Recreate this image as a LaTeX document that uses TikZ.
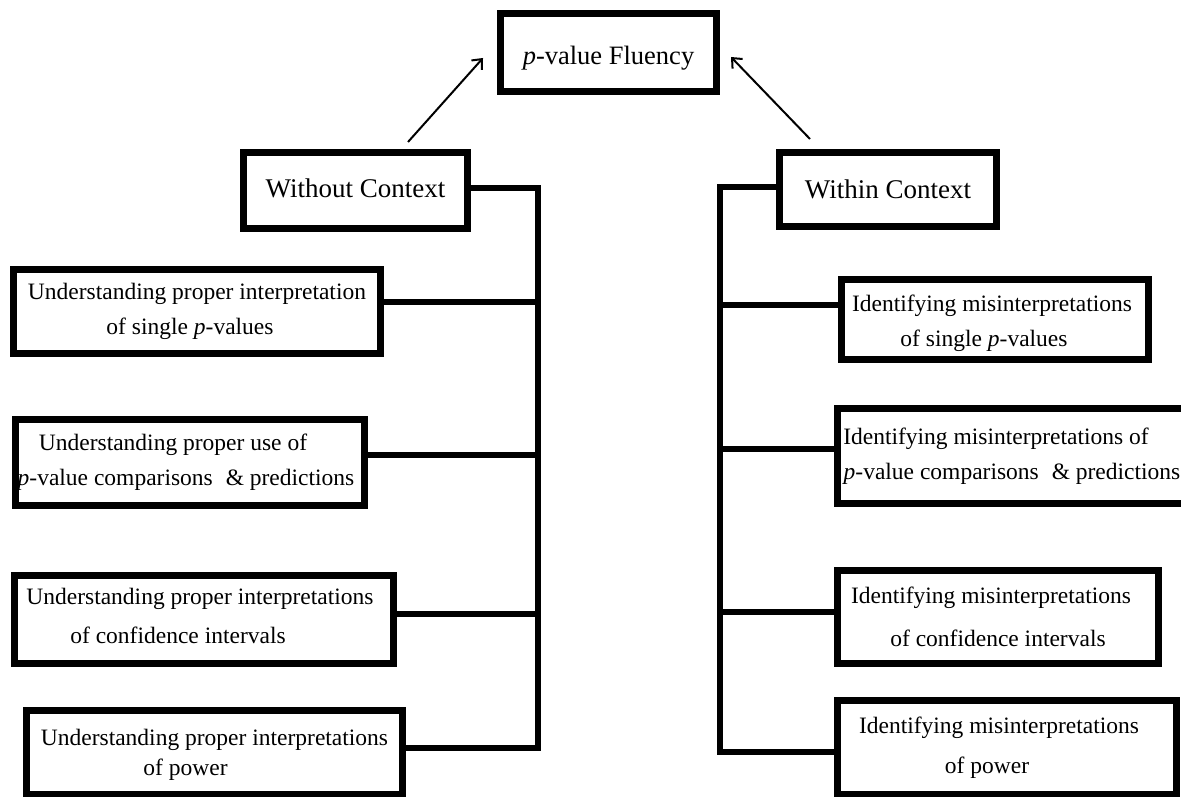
\documentclass[tikz,border=0pt]{standalone}
\usepackage{fontspec}
\setmainfont{Liberation Serif}
\usetikzlibrary{arrows.meta}
\newcommand{\shl}[2]{\hspace*{#1pt}#2\hspace*{-#1pt}}
\begin{document}
\begin{tikzpicture}[x=1pt,y=-1pt,
  box/.style={draw, line width=7pt, inner sep=0pt},
  txt/.style={inner sep=0pt, align=center, font=\fontsize{23.5}{28}\selectfont},
  headtxt/.style={txt, font=\fontsize{27}{32}\selectfont},
  conn/.style={line width=6.5pt, line join=miter},
  arr/.style={line width=2pt, -{Straight Barb[length=8pt,width=14pt]}}]
\fill[white] (0,0) rectangle (1181,797);
\clip (0,0) rectangle (1181,797);

% boxes
\node[box, minimum width=216pt, minimum height=78pt] (top) at (608.5,52.5) {};
\node[box, minimum width=224pt, minimum height=76pt] (woc) at (355.5,190.5) {};
\node[box, minimum width=217pt, minimum height=74pt] (wic) at (888,189.5) {};
\node[box, minimum width=367pt, minimum height=84pt] (l1) at (197,311.5) {};
\node[box, minimum width=349pt, minimum height=86pt] (l2) at (190,462.5) {};
\node[box, minimum width=379pt, minimum height=88pt] (l3) at (204,619.5) {};
\node[box, minimum width=376pt, minimum height=84pt] (l4) at (214.5,752.5) {};
\node[box, minimum width=307pt, minimum height=80pt] (r1) at (995,319.5) {};
\node[box, minimum width=349pt, minimum height=95pt] (r2) at (1012,456) {};
\node[box, minimum width=321pt, minimum height=93pt] (r3) at (998,617) {};
\node[box, minimum width=339pt, minimum height=94pt] (r4) at (1007,747.5) {};

% texts
\node[headtxt, font=\fontsize{26.5}{32}\selectfont] (topt) at ([yshift=-6pt]top.center) {\textit{p}-value Fluency};
\node[headtxt] (woct) at ([yshift=2pt]woc.center) {Without Context};
\node[headtxt] (wict) at (wic.center) {Within Context};
\node[txt] (l1t) at (l1.center)
  {\shl{0}{Understanding proper interpretation}\\[7pt]\shl{-7}{of single \textit{p}-values}};
\node[txt] (l2t) at (l2.center)
  {\shl{-17}{Understanding proper use of}\\[7pt]\shl{-4}{\textit{p}-value comparisons\hspace{0.3em} \& predictions}};
\node[txt] (l3t) at ([yshift=4pt]l3.center)
  {\shl{-4}{Understanding proper interpretations}\\[11pt]\shl{-26}{of confidence intervals}};
\node[txt] (l4t) at ([yshift=-2pt]l4.center)
  {Understanding proper interpretations\\[2pt]\shl{-29}{of power}};
\node[txt] (r1t) at ([yshift=-4pt]r1.center)
  {\shl{-3}{Identifying misinterpretations}\\[7pt]\shl{-11}{of single \textit{p}-values}};
\node[txt] (r2t) at (r2.center)
  {\shl{-16}{Identifying misinterpretations of}\\[7pt]\textit{p}-value comparisons\hspace{0.3em} \& predictions};
\node[txt] (r3t) at (r3.center)
  {\shl{-7}{Identifying misinterpretations}\\[15pt]of confidence intervals};
\node[txt] (r4t) at (r4.center)
  {\shl{-8}{Identifying misinterpretations}\\[12pt]\shl{-20}{of power}};

% tree connectors
\coordinate (lb) at (538,748);
\coordinate (rb) at (720,752);
\draw[conn] ([yshift=2.5pt]woc.east) -| (lb) -- ([yshift=4.5pt]l4.east);
\draw[conn] ([yshift=9.5pt]l1.east) -- ([yshift=9.5pt]l1.east -| lb);
\draw[conn] ([yshift=7.5pt]l2.east) -- ([yshift=7.5pt]l2.east -| lb);
\draw[conn] ([yshift=5.5pt]l3.east) -- ([yshift=5.5pt]l3.east -| lb);

\draw[conn] ([yshift=2.5pt]wic.west) -| (rb) -- ([yshift=-4.5pt]r4.west);
\draw[conn] ([yshift=14.5pt]r1.west) -- ([yshift=14.5pt]r1.west -| rb);
\draw[conn] ([yshift=7pt]r2.west) -- ([yshift=7pt]r2.west -| rb);
\draw[conn] ([yshift=5pt]r3.west) -- ([yshift=5pt]r3.west -| rb);

% arrows
\draw[arr] ([xshift=52.5pt,yshift=7pt]woc.north) -- ([xshift=-14pt,yshift=-5.5pt]top.west);
\draw[arr] ([xshift=-78pt,yshift=10pt]wic.north) -- ([xshift=11pt,yshift=-4.5pt]top.east);
\end{tikzpicture}
\end{document}
